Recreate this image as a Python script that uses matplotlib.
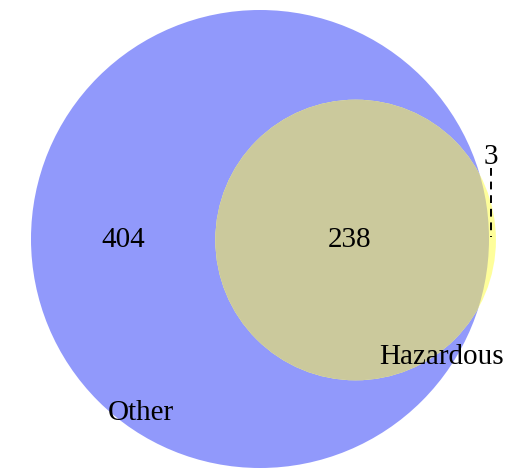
import numpy as np
import matplotlib
matplotlib.use("Agg")
import matplotlib.pyplot as plt
from matplotlib.patches import Circle

# --- Данные ---
set_names = ["Other", "Hazardous"]
only_other = 404
both = 238
only_hazardous = 3

plt.rcParams['font.family'] = ['Liberation Serif', 'DejaVu Serif']


def lens_area(r1, r2, d):
    """Площадь пересечения двух кругов с радиусами r1, r2 на расстоянии d."""
    if d >= r1 + r2:
        return 0.0
    if d <= abs(r1 - r2):
        return np.pi * min(r1, r2) ** 2
    a1 = r1 ** 2 * np.arccos((d ** 2 + r1 ** 2 - r2 ** 2) / (2 * d * r1))
    a2 = r2 ** 2 * np.arccos((d ** 2 + r2 ** 2 - r1 ** 2) / (2 * d * r2))
    a3 = 0.5 * np.sqrt((-d + r1 + r2) * (d + r1 - r2) * (d - r1 + r2) * (d + r1 + r2))
    return a1 + a2 - a3


def solve_distance(r1, r2, target):
    lo, hi = abs(r1 - r2), r1 + r2
    for _ in range(100):
        mid = (lo + hi) / 2
        if lens_area(r1, r2, mid) > target:
            lo = mid
        else:
            hi = mid
    return (lo + hi) / 2


# --- Геометрия (в пикселях) ---
total_other = only_other + both
total_hazardous = only_hazardous + both
r_other = np.sqrt(total_other / np.pi)
r_haz = np.sqrt(total_hazardous / np.pi)
dist = solve_distance(r_other, r_haz, both)

scale = 229 / r_other
r_other_px = r_other * scale
r_haz_px = r_haz * scale
dist_px = dist * scale
cx, cy = 260, 239

figure = plt.figure(figsize=(5.08, 4.69), dpi=100)
axes = figure.add_axes([0, 0, 1, 1])
axes.set_xlim(0, 508)
axes.set_ylim(469, 0)
axes.set_aspect('equal')
axes.axis('off')

blue = Circle((cx, cy), r_other_px, facecolor='#9199fb', edgecolor='none')
yellow = Circle((cx + dist_px - 1, cy + 1), r_haz_px, facecolor='#fefe9b', edgecolor='none')
inter = Circle((cx + dist_px - 1, cy + 1), r_haz_px, facecolor='#cbc99c', edgecolor='none')
axes.add_patch(blue)
axes.add_patch(yellow)
axes.add_patch(inter)
inter.set_clip_path(blue)

font_size = 21
axes.text(123, 240, str(only_other), ha='center', va='center', fontsize=font_size)
axes.text(350, 240, str(both), ha='center', va='center', fontsize=font_size)
axes.text(491, 157, str(only_hazardous), ha='center', va='center', fontsize=font_size)
axes.plot([491, 491], [168, 237], color='black', linestyle=(0, (4, 3)), linewidth=1.4)

axes.text(141, 413, set_names[0], ha='center', va='center', fontsize=font_size)
axes.text(442, 357, set_names[1], ha='center', va='center', fontsize=font_size)

figure.savefig("out.png", dpi=100)
plt.close(figure)
